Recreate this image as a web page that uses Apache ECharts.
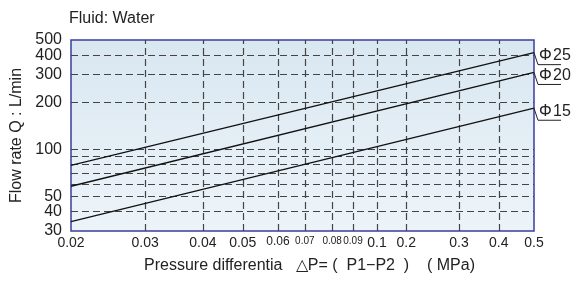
<!DOCTYPE html>
<html><head><meta charset="utf-8">
<script src="https://cdn.jsdelivr.net/npm/echarts@6/dist/echarts.min.js"></script>
<style>html,body{margin:0;padding:0;background:#fff}#c{width:576px;height:281px}</style>
</head><body><div id="c"></div>
<script>
// ---- data ----
const xTickValues = [0.02, 0.03, 0.04, 0.05, 0.06, 0.07, 0.08, 0.09, 0.1, 0.2, 0.3, 0.4, 0.5];
const xTickLabels = ['0.02', '0.03', '0.04', '0.05', '0.06', '0.07', '0.08', '0.09', '0.1', '0.2', '0.3', '0.4', '0.5'];
// the printed pressure scale is hand-drawn and non-uniform: place of each tick along the axis, % of its length
const xTickPlace = [0, 16.0, 28.5, 37.1, 44.7, 50.5, 56.4, 60.9, 66.1, 72.4, 83.8, 92.4, 100];
const smallLabels = ['0.06'];
const tinyLabels = ['0.07', '0.08', '0.09'];
const yTickLabels = [30, 40, 50, 100, 200, 300, 400, 500];
const yGridValues = [40, 50, 60, 70, 80, 90, 100, 200, 300, 400];
const seriesNames = ['Φ25', 'Φ20', 'Φ15'];
const pressure = [0.02, 0.5];
const flowPhi25 = [79, 415];
const flowPhi20 = [58, 310];
const flowPhi15 = [34.4, 183];
const flows = [flowPhi25, flowPhi20, flowPhi15];

const FONT = "'Liberation Sans', Arial, sans-serif";

function place(p) {
  for (let i = 0; i < xTickValues.length - 1; i++) {
    const a = xTickValues[i], b = xTickValues[i + 1];
    if (p >= a && p <= b) {
      return xTickPlace[i] + (p - a) / (b - a) * (xTickPlace[i + 1] - xTickPlace[i]);
    }
  }
  return p < xTickValues[0] ? xTickPlace[0] : xTickPlace[xTickPlace.length - 1];
}

const chart = echarts.init(document.getElementById('c'), null, {renderer: 'canvas'});

const gridMarks = yGridValues.map(v => ({yAxis: v}))
  .concat(xTickPlace.slice(1, -1).map(v => ({xAxis: v})));

const lineSeries = seriesNames.map((n, k) => ({
  name: n,
  type: 'line',
  symbol: 'none',
  silent: true,
  z: 5,
  lineStyle: {color: '#111', width: 1.3},
  data: pressure.map((p, i) => [place(p), flows[k][i]])
}));

const yMax = yTickLabels[yTickLabels.length - 1];

chart.setOption({
  animation: false,
  title: {
    text: 'Fluid: Water', left: 64, top: 6,
    textStyle: {fontSize: 16, fontWeight: 'normal', color: '#222', fontFamily: FONT}
  },
  grid: {
    left: 71, right: 42, top: 40, bottom: 50, show: true,
    borderColor: '#3b3d9e', borderWidth: 1.5,
    backgroundColor: new echarts.graphic.LinearGradient(0, 0, 0, 1, [
      {offset: 0, color: '#d9e7f1'}, {offset: 1, color: '#edf4f9'}
    ])
  },
  xAxis: {
    type: 'value', min: 0, max: 100,
    axisLine: {show: false}, axisTick: {show: false}, splitLine: {show: false},
    axisLabel: {
      customValues: xTickPlace, margin: 5, color: '#222',
      fontFamily: FONT, fontSize: 14,
      formatter: v => {
        const i = xTickPlace.findIndex(t => Math.abs(t - v) < 1e-6);
        const s = i >= 0 ? xTickLabels[i] : '';
        if (smallLabels.includes(s)) return '{s|' + s + '}';
        if (tinyLabels.includes(s)) return '{t|' + s + '}';
        return s;
      },
      rich: {
        s: {fontSize: 12, fontFamily: FONT, color: '#222'},
        t: {fontSize: 10, fontFamily: FONT, color: '#222'}
      }
    },
    name: 'Pressure differentia   \u25B3P= (  P1\u2212P2  )    ( MPa)',
    nameLocation: 'middle', nameGap: 27,
    nameTextStyle: {fontSize: 16, color: '#222', fontFamily: FONT, padding: [0, 0, 0, 14]}
  },
  yAxis: {
    type: 'log', logBase: 10, min: 30, max: yMax,
    axisLine: {show: false}, axisTick: {show: false}, splitLine: {show: false},
    axisLabel: {
      customValues: yTickLabels.slice(0, -1), margin: 9, fontSize: 16, color: '#222', fontFamily: FONT
    },
    name: 'Flow rate Q : L/min',
    nameLocation: 'middle', nameGap: 46,
    nameTextStyle: {fontSize: 16, color: '#222', fontFamily: FONT}
  },
  series: [{
    type: 'line', data: [], silent: true,
    markLine: {
      silent: true, symbol: 'none', animation: false,
      label: {show: false},
      lineStyle: {color: '#444', width: 1.2, type: [7, 4]},
      data: gridMarks
    }
  }].concat(lineSeries)
});

const g = [];
// top tick label (the axis drops the label sitting exactly on the log maximum)
const topPt = chart.convertToPixel({gridIndex: 0}, [0, yMax]);
g.push({
  type: 'text', silent: true,
  style: {text: String(yMax), x: topPt[0] - 9, y: topPt[1], textAlign: 'right', textVerticalAlign: 'middle',
          font: '16px ' + FONT, fill: '#222'}
});
// leader lines and curve names at the right end of each curve
seriesNames.forEach((n, k) => {
  const end = chart.convertToPixel({gridIndex: 0}, [place(pressure[1]), flows[k][1]]);
  const x = end[0], y = end[1];
  g.push({
    type: 'polyline', silent: true, z: 10,
    shape: {points: [[x, y], [x + 4, y + 12], [x + 27, y + 12]]},
    style: {stroke: '#222', lineWidth: 1, fill: null}
  });
  g.push({
    type: 'text', silent: true, z: 10,
    style: {
      text: n.replace('Φ', 'Φ\u200A'), x: x + 5, y: y + 3,
      textVerticalAlign: 'middle', textAlign: 'left',
      font: '16px ' + FONT, fill: '#222'
    }
  });
});
chart.setOption({graphic: g});
</script>
</body></html>
